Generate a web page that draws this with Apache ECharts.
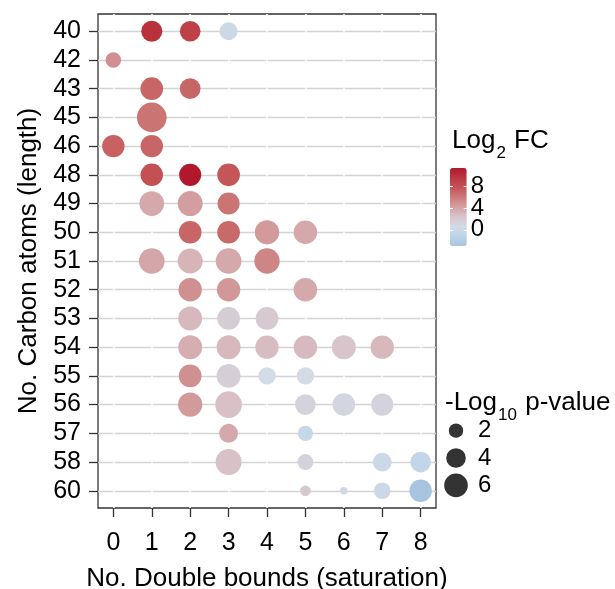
<!DOCTYPE html>
<html><head><meta charset="utf-8">
<script src="https://cdn.jsdelivr.net/npm/echarts@6/dist/echarts.min.js"></script>
<style>html,body{margin:0;padding:0;background:#fff}#c{width:615px;height:589px}</style>
</head><body><div id="c"></div>
<script>
// ---- data ----
const carbonLabels = ['40','42','43','45','46','48','49','50','51','52','53','54','55','56','57','58','60'];
const doubleBondTicks = [0,1,2,3,4,5,6,7,8];
const pointCarbon = [40,40,40, 42, 43,43, 45, 46,46, 48,48,48, 49,49,49, 50,50,50,50, 51,51,51,51,
  52,52,52, 53,53,53, 54,54,54,54,54,54, 55,55,55,55, 56,56,56,56,56, 57,57, 58,58,58,58, 60,60,60,60];
const pointDoubleBonds = [1,2,3, 0, 1,2, 1, 0,1, 1,2,3, 1,2,3, 2,3,4,5, 1,2,3,4,
  2,3,5, 2,3,4, 2,3,4,5,6,7, 2,3,4,5, 2,3,5,6,7, 3,5, 3,5,7,8, 5,6,7,8];
const pointLog2FC = [10,9,0, 5, 7,7, 6.3, 7.2,7, 8,11.4,7.7, 3.8,4.3,6.3, 7,6.8,4.5,3.8, 3.9,3.2,3.8,5.5,
  5,4.6,3.8, 3.0,1.8,2.0, 3.5,3.0,2.8,2.9,2.4,3.0, 5,1.6,0.6,0.6, 4.5,2.6,1.3,1.0,1.2, 3.8,-0.5, 2.5,1.3,0,-0.6, 2.0,0.2,0,-3.0];
const pointNegLog10P = [4.7,4.5,3.3, 2.4, 5.5,4.5, 9.8, 5.4,5.4, 5.4,5.2,5.5, 6.6,6.8,5.2, 5.5,5.5,6.4,6.0, 7.2,6.8,7.2,7.0,
  5.9,5.9,6.0, 6.2,5.5,5.5, 6.2,6.2,5.9,5.9,6.2,5.9, 5.5,6.2,3.1,3.1, 6.4,7.8,4.5,5.5,5.2, 3.7,2.3, 7.4,2.5,3.6,4.5, 1.0,0.4,2.8,5.4];
const fcTicks = [0,4,8];
const sizeLegendValues = [2,4,6];
const fcMin = -3.0, fcMax = 11.4;
const fcColors = ['#a8c4e0','#bcd4ea','#d2dbe6','#d8c4ca','#d4a0a2','#cc7a7a','#c45456','#ba3840','#b2182b'];

const font = '"Liberation Sans", Arial, sans-serif';
function pointSize(p){ return 2*(0.92 + 4.44*Math.sqrt(p)); }
const rowIdx = carbonLabels.map((_, i) => i);
const data = pointCarbon.map((c, i) => [pointDoubleBonds[i], carbonLabels.indexOf(String(c)), pointLog2FC[i], pointNegLog10P[i]]);

// one label axis per colour-bar tick (keeps the close labels from being auto-hidden)
const fcLabelAxes = fcTicks.map(t => ({
  gridIndex:2, type:'value', min:fcMin, max:fcMax, position:'right', z:10,
  axisLine:{show:false, onZero:false}, axisTick:{show:false}, splitLine:{show:false},
  axisLabel:{customValues:[t], margin:4, showMinLabel:true, showMaxLabel:true,
    fontSize:24, color:'#000', fontFamily:font}
}));

const chart = echarts.init(document.getElementById('c'), null, {renderer:'canvas'});
chart.setOption({
  animation:false,
  backgroundColor:'#fff',
  textStyle:{fontFamily:font, color:'#000'},
  grid:[
    {left:98, top:14, width:338, height:494, show:true, borderColor:'#333', borderWidth:1.3, backgroundColor:'transparent', z:0, outerBoundsMode:'none', containLabel:false},
    {left:444, top:417, width:24, height:82, outerBoundsMode:'none', containLabel:false},
    {left:450, top:168, width:16.7, height:78, outerBoundsMode:'none', containLabel:false}
  ],
  xAxis:[
    {gridIndex:0, type:'value', min:-0.4, max:8.4, z:1, position:'bottom',
     name:'No. Double bounds (saturation)', nameLocation:'middle', nameGap:58,
     nameTextStyle:{fontSize:26, color:'#000', fontFamily:font},
     axisLine:{show:false, onZero:false},
     axisTick:{show:true, customValues:doubleBondTicks, length:9, lineStyle:{color:'#333', width:1.3}},
     axisLabel:{customValues:doubleBondTicks, fontSize:25, color:'#000', margin:23, fontFamily:font, showMinLabel:true, showMaxLabel:true},
     splitLine:{show:true, lineStyle:{color:'#fff', width:1.5}}},
    {gridIndex:1, type:'value', min:-1, max:1, show:false},
    {gridIndex:2, type:'value', min:0, max:1, show:false}
  ],
  yAxis:[
    {gridIndex:0, type:'value', inverse:true, min:-0.6, max:16.6, position:'left',
     name:'No. Carbon atoms (length)', nameLocation:'middle', nameGap:56, nameRotate:90,
     nameTextStyle:{fontSize:26, color:'#000', fontFamily:font},
     axisLine:{show:false, onZero:false},
     axisTick:{show:true, customValues:rowIdx, length:9, lineStyle:{color:'#333', width:1.3}},
     axisLabel:{customValues:rowIdx, formatter:v => carbonLabels[v], fontSize:25, color:'#000', margin:17, fontFamily:font, showMinLabel:true, showMaxLabel:true},
     splitLine:{show:true, lineStyle:{color:'#d4d4d4', width:1.4}}},
    {gridIndex:1, type:'category', data:sizeLegendValues.map(String), inverse:true, position:'right',
     axisLine:{show:false, onZero:false}, axisTick:{show:false},
     axisLabel:{fontSize:24, margin:10, color:'#000', fontFamily:font, interval:0, lineHeight:18, showMinLabel:true, showMaxLabel:true}, splitLine:{show:false}},
    {gridIndex:2, type:'value', min:fcMin, max:fcMax, position:'right', z:10,
     axisLine:{show:false, onZero:false},
     axisTick:{show:true, inside:true, customValues:fcTicks, length:3, lineStyle:{color:'#fff', width:1}},
     axisLabel:{show:false}, splitLine:{show:false}},
    {gridIndex:2, type:'value', min:fcMin, max:fcMax, position:'left', z:10,
     axisLine:{show:false, onZero:false},
     axisTick:{show:true, inside:true, customValues:fcTicks, length:3, lineStyle:{color:'#fff', width:1}},
     axisLabel:{show:false}, splitLine:{show:false}},
    ...fcLabelAxes
  ],
  visualMap:{type:'continuous', seriesIndex:0, dimension:2, min:fcMin, max:fcMax,
    inRange:{color:fcColors}, calculable:false, orient:'vertical', show:true,
    left:445, top:163, padding:5, itemWidth:16.7, itemHeight:78, text:null, z:4},
  graphic:[
    {type:'text', left:452, top:128, z:20, style:{
      text:'{a|Log}{b|2}{a| FC}', fontFamily:font,
      rich:{a:{fontSize:26, lineHeight:30, verticalAlign:'top', fill:'#000', fontFamily:font},
            b:{fontSize:17, lineHeight:17, verticalAlign:'top', padding:[17,1,0,1], fill:'#000', fontFamily:font}}}},
    {type:'text', left:445, top:390, z:20, style:{
      text:'{a|-Log}{b|10}{a| p-value}', fontFamily:font,
      rich:{a:{fontSize:26, lineHeight:30, verticalAlign:'top', fill:'#000', fontFamily:font},
            b:{fontSize:17, lineHeight:17, verticalAlign:'top', padding:[17,1,0,1], fill:'#000', fontFamily:font}}}}
  ],
  series:[
    {type:'scatter', xAxisIndex:0, yAxisIndex:0, data:data, z:3,
     symbolSize:v => pointSize(v[3]), itemStyle:{opacity:1}},
    {type:'scatter', xAxisIndex:1, yAxisIndex:1, silent:true,
     data:sizeLegendValues.map((v, i) => [0, i, v]),
     symbolSize:v => pointSize(v[2]), itemStyle:{color:'#000'}}
  ]
});
</script></body></html>
